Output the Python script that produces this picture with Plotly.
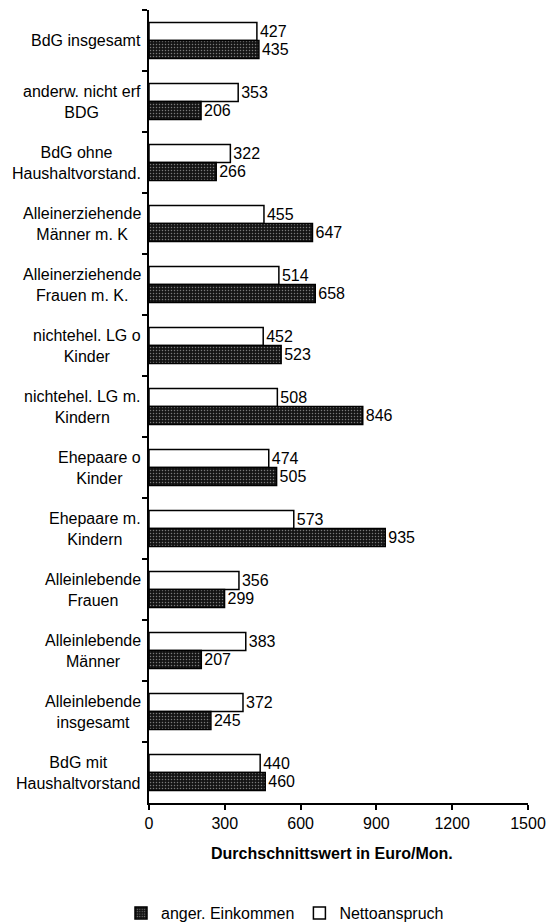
import plotly.graph_objects as go

# Household types, listed top to bottom
categories = [
    "BdG insgesamt",
    "anderw. nicht erf<br>BDG",
    "BdG ohne<br>Haushaltvorstand.",
    "Alleinerziehende<br>Männer m. K",
    "Alleinerziehende<br>Frauen m. K.",
    "nichtehel. LG o<br>Kinder",
    "nichtehel. LG m.<br>Kindern",
    "Ehepaare o<br>Kinder",
    "Ehepaare m.<br>Kindern",
    "Alleinlebende<br>Frauen",
    "Alleinlebende<br>Männer",
    "Alleinlebende<br>insgesamt",
    "BdG mit<br>Haushaltvorstand",
]

# Average amounts in Euro per month
nettoanspruch = [427, 353, 322, 455, 514, 452, 508, 474, 573, 356, 383, 372, 440]
anger_einkommen = [435, 206, 266, 647, 658, 523, 846, 505, 935, 299, 207, 245, 460]

x_ticks = [0, 300, 600, 900, 1200, 1500]

FONT = "Liberation Sans, Arial, Helvetica, sans-serif"
FS = 16
W, H = 556, 923
L, R, T, B = 149, 19, 10, 120

fig = go.Figure()

fig.add_trace(go.Bar(
    name="Nettoanspruch",
    y=categories,
    x=nettoanspruch,
    orientation="h",
    marker=dict(color="white", line=dict(color="black", width=1.5)),
    text=[str(v) for v in nettoanspruch],
    textposition="outside",
    cliponaxis=False,
    constraintext="none",
    textfont=dict(family=FONT, size=FS, color="black"),
))

fig.add_trace(go.Bar(
    name="anger. Einkommen",
    y=categories,
    x=anger_einkommen,
    orientation="h",
    marker=dict(
        color="#141414",
        line=dict(color="black", width=1.5),
        pattern=dict(shape=".", fgcolor="#7a7a7a", bgcolor="#141414",
                     size=3, solidity=0.2, fillmode="replace"),
    ),
    text=[str(v) for v in anger_einkommen],
    textposition="outside",
    cliponaxis=False,
    constraintext="none",
    textfont=dict(family=FONT, size=FS, color="black"),
))

# Category labels: centred multi-line text right-aligned against the axis
for cat in categories:
    fig.add_annotation(
        x=0, xref="paper", y=cat, yref="y",
        text=cat, showarrow=False,
        xanchor="right", xshift=-6, align="center",
        font=dict(family=FONT, size=FS, color="black"),
    )

# Axis title
fig.add_annotation(
    x=0.5, xref="paper", y=0, yref="paper", yshift=-50,
    xshift=-7,
    text="<b>Durchschnittswert in Euro/Mon.</b>",
    showarrow=False, xanchor="center", yanchor="middle",
    font=dict(family=FONT, size=FS, color="black"),
)

fig.update_layout(
    width=W, height=H,
    margin=dict(l=L, r=R, t=T, b=B),
    paper_bgcolor="white", plot_bgcolor="white",
    barmode="group",
    bargap=0.41,
    bargroupgap=0.0,
    font=dict(family=FONT, size=FS, color="black"),
    showlegend=True,
    legend=dict(
        orientation="h",
        traceorder="reversed",
        xref="container", x=285 / W, xanchor="center",
        yref="container", y=1 - 913 / H, yanchor="middle",
        font=dict(family=FONT, size=FS, color="black"),
        itemwidth=30,
    ),
    xaxis=dict(
        range=[0, 1500],
        tickvals=x_ticks,
        ticktext=[str(v) for v in x_ticks],
        showgrid=False, zeroline=False,
        showline=True, linecolor="black", linewidth=1.5,
        ticks="outside", ticklen=5, tickcolor="black", tickwidth=1.5,
        tickfont=dict(family=FONT, size=FS, color="black"),
        fixedrange=True,
    ),
    yaxis=dict(
        type="category",
        categoryorder="array", categoryarray=categories,
        autorange="reversed",
        showticklabels=False,
        showgrid=False, zeroline=False,
        showline=True, linecolor="black", linewidth=1.5,
        ticks="outside", ticklen=5, tickcolor="black", tickwidth=1.5,
        tickson="boundaries",
        fixedrange=True,
    ),
)

fig.write_html("out.html")
